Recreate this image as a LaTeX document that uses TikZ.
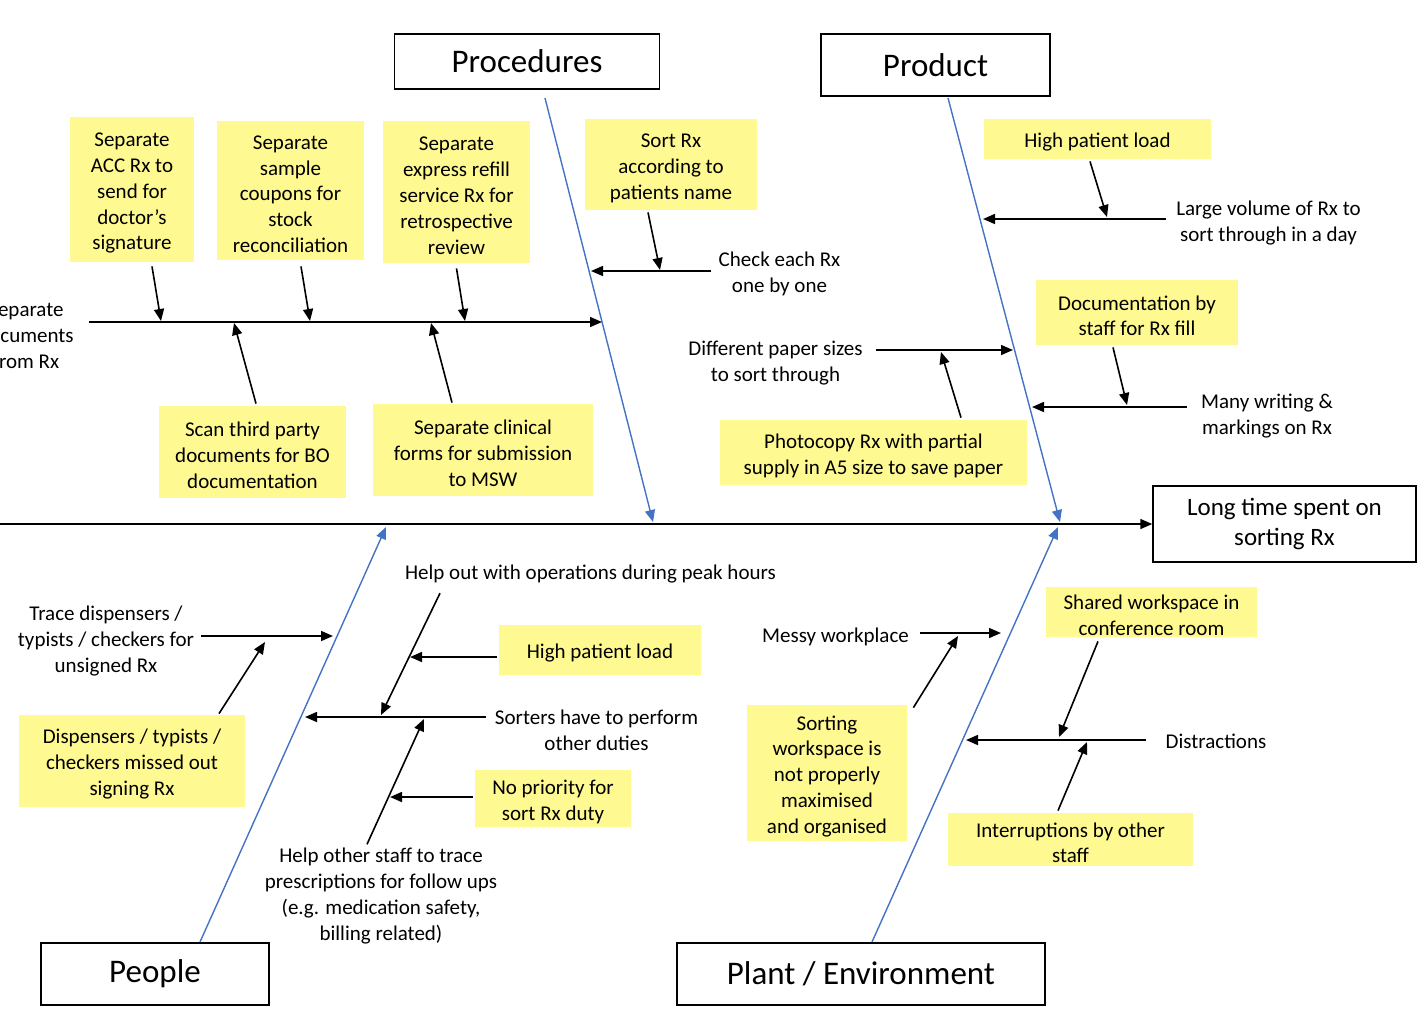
\documentclass[tikz,border=0pt]{standalone}
\usepackage{fontspec}
\setmainfont{Carlito}
\usepackage{tikz}
\usetikzlibrary{arrows.meta,calc}
\definecolor{noteyellow}{RGB}{255,249,145}
\definecolor{boneblue}{RGB}{68,114,196}
\tikzstyle{arr} = [-{Triangle[length=6pt,width=5pt]}, line width=0.8pt]
\tikzstyle{bone} = [-{Triangle[length=6pt,width=5pt]}, draw=boneblue, line width=0.7pt]
\newcommand{\topstrut}{\rule{0pt}{10.5pt}}

\begin{document}
\begin{tikzpicture}[x=0.5pt, y=-0.5pt,
  note/.style = {fill=noteyellow, align=center, inner sep=0pt,
    font=\fontsize{10.5}{12.9}\selectfont},
  lbl/.style = {align=center, inner sep=0pt,
    font=\fontsize{10.5}{13}\selectfont},
  oneline/.style = {execute at begin node={\rule{0pt}{10pt}}},
  cat/.style = {draw, line width=0.75pt, inner sep=0pt,
    font=\fontsize{16.5}{20}\selectfont}]
  \clip (0,0) rectangle (1421,1009);

  \node[cat, minimum width=132.5pt, minimum height=27.5pt] (proc) at (527,61.5) {Procedures};
  \node[cat, minimum width=114.5pt, minimum height=31pt] (prod) at (935.5,65) {Product};
  \node[cat, minimum width=114pt, minimum height=31pt] (ppl) at (155,974) {People};
  \node[cat, minimum width=184pt, minimum height=31pt] (plant) at (861,974) {Plant / Environment};
  \node[cat, minimum width=131.5pt, minimum height=38pt, align=center,
    font=\fontsize{12.5}{15}\selectfont] (effect) at (1284.5,524) {Long time spent on\\sorting Rx};

  \coordinate (tail) at (0,524);
  \draw[arr] (tail) -- (effect.west);

  \coordinate (procA) at (545,98);   \coordinate (procB) at (653,522);
  \coordinate (prodA) at (948,98);   \coordinate (prodB) at (1060,522);
  \coordinate (pplA) at (200,942);   \coordinate (pplB) at (386,527);
  \coordinate (plantA) at (872,942); \coordinate (plantB) at (1058,527);
  \draw[bone] (procA) -- (procB);
  \draw[bone] (prodA) -- (prodB);
  \draw[bone] (pplA) -- (pplB);
  \draw[bone] (plantA) -- (plantB);

  % Procedures
  \node[note, minimum width=62pt, minimum height=72.5pt] (acc) at (132,189.5)
    {\topstrut Separate\\ACC Rx to\\send for\\doctor’s\\signature};
  \node[note, minimum width=73.5pt, minimum height=69.5pt] (coup) at (290.5,190.5)
    {\topstrut Separate\\sample\\coupons for\\stock\\reconciliation};
  \node[note, minimum width=73.5pt, minimum height=71pt] (expr) at (456.5,192)
    {\topstrut Separate\\express refill\\service Rx for\\retrospective\\review};
  \node[note, minimum width=86pt, minimum height=45.5pt] (sortn) at (671,164.5)
    {\topstrut Sort Rx\\according to\\patients name};
  \node[note, minimum width=93.5pt, minimum height=46pt] (scan) at (252.5,452)
    {\topstrut Scan third party\\documents for BO\\documentation};
  \node[note, minimum width=110pt, minimum height=46pt] (clin) at (483,450)
    {\topstrut Separate clinical\\forms for submission\\to MSW};
  \node[lbl] (sepdoc) at (26,332) {\topstrut Separate\\documents\\from Rx};
  \node[lbl] (check) at (779.5,271) {\topstrut Check each Rx\\one by one};

  \coordinate (procL) at (89,322);  \coordinate (procR) at (602,322);
  \draw[arr] (procL) -- (procR);
  \coordinate (p1) at (161,321);  \coordinate (p2) at (310,321);
  \coordinate (p3) at (465,321);  \coordinate (p4) at (234,323);
  \coordinate (p5) at (431,323);  \coordinate (p6) at (591,271);
  \coordinate (p7) at (660,270);
  \draw[arr] ($(acc.south)+(20,4)$) -- (p1);
  \draw[arr] ($(coup.south)+(10.5,6)$) -- (p2);
  \draw[arr] ($(expr.south)+(0,5)$) -- (p3);
  \draw[arr] ($(scan.north)+(3.5,-2)$) -- (p4);
  \draw[arr] ($(clin.north)+(-31,-1)$) -- (p5);
  \draw[arr] ($(check.west)+(-7,0)$) -- (p6);
  \draw[arr] ($(sortn.south)+(-23,2)$) -- (p7);

  % Product
  \node[note, oneline, minimum width=113.5pt, minimum height=20pt] (hpl1) at (1097.5,139) {High patient load};
  \node[lbl] (large) at (1268.5,220) {\topstrut Large volume of Rx to\\sort through in a day};
  \node[note, minimum width=101pt, minimum height=32.5pt] (docu) at (1137,312.5)
    {\topstrut Documentation by\\staff for Rx fill};
  \node[lbl] (many) at (1267,413) {\topstrut Many writing \&\\markings on Rx};
  \node[lbl] (diff) at (775.5,360) {\topstrut Different paper sizes\\to sort through};
  \node[note, minimum width=153.5pt, minimum height=32.5pt] (photo) at (873.5,452.5)
    {\topstrut Photocopy Rx with partial\\supply in A5 size to save paper};

  \coordinate (q1) at (983,219);   \coordinate (q2) at (1107,217);
  \coordinate (q3) at (1032,407);  \coordinate (q4) at (1127,405);
  \coordinate (q5) at (1013,350);  \coordinate (q6) at (941,352);
  \draw[arr] ($(large.west)+(-10,-1)$) -- (q1);
  \draw[arr] ($(hpl1.south)+(-7.5,2)$) -- (q2);
  \draw[arr] ($(many.west)+(-14,-6)$) -- (q3);
  \draw[arr] ($(docu.south)+(-24,2)$) -- (q4);
  \draw[arr] ($(diff.east)+(13,-10)$) -- (q5);
  \draw[arr] ($(photo.north)+(87.5,-2)$) -- (q6);

  % People
  \node[lbl] (trace) at (106,638) {\topstrut Trace dispensers /\\typists / checkers for\\unsigned Rx};
  \node[note, minimum width=113pt, minimum height=46pt] (missed) at (132,761)
    {\topstrut Dispensers / typists /\\checkers missed out\\signing Rx};
  \node[lbl, oneline] (helpout) at (590.5,571) {Help out with operations during peak hours};
  \node[note, oneline, minimum width=101pt, minimum height=25pt] (hpl2) at (600,650) {High patient load};
  \node[lbl] (sorters) at (596.5,727) {\topstrut Sorters have to perform\\other duties};
  \node[note, minimum width=78pt, minimum height=28.5pt] (noprio) at (553,798.5)
    {\topstrut No priority for\\sort Rx duty};
  \node[lbl] (helpother) at (381,893)
    {\topstrut Help other staff to trace\\prescriptions for follow ups\\(e.g. medication safety,\\billing related)};

  \coordinate (r1) at (333,636);  \coordinate (r2) at (265,642);
  \coordinate (r3) at (305,717);  \coordinate (r4) at (381,715);
  \coordinate (r5) at (410,657);  \coordinate (r6) at (424,719);
  \coordinate (r7) at (390,797);
  \draw[arr] ($(trace.east)+(7,-2)$) -- (r1);
  \draw[arr] ($(missed.north)+(87,-1)$) -- (r2);
  \draw[arr] ($(sorters.west)+(-9,-10)$) -- (r3);
  \draw[arr] ($(helpout.south)+(-150.5,10)$) -- (r4);
  \draw[arr] ($(hpl2.west)+(-2,7)$) -- (r5);
  \draw[arr] ($(helpother.north)+(-14,3)$) -- (r6);
  \draw[arr] ($(noprio.west)+(-2,-1.5)$) -- (r7);

  % Plant / Environment
  \node[lbl, oneline] (messy) at (835.5,634) {Messy workplace};
  \node[note, minimum width=80pt, minimum height=68pt] (sortws) at (827,773)
    {\topstrut Sorting\\workspace is\\not properly\\maximised\\and organised};
  \node[note, minimum width=105.5pt, minimum height=25pt] (shared) at (1151.5,612)
    {\topstrut Shared workspace in\\conference room};
  \node[lbl, oneline] (distr) at (1216,739) {Distractions};
  \node[note, minimum width=122.5pt, minimum height=26.5pt] (interr) at (1070.5,839.5)
    {\topstrut Interruptions by other\\staff};

  \coordinate (s1) at (1001,633);  \coordinate (s2) at (958,636);
  \coordinate (s3) at (966,740);   \coordinate (s4) at (1059,737);
  \coordinate (s5) at (1087,742);
  \draw[arr] ($(messy.east)+(11,-1)$) -- (s1);
  \draw[arr] ($(sortws.north east)+(6,3)$) -- (s2);
  \draw[arr] ($(distr.west)+(-19,1)$) -- (s3);
  \draw[arr] ($(shared.south)+(-53.5,4)$) -- (s4);
  \draw[arr] ($(interr.north)+(-12.5,-2)$) -- (s5);
\end{tikzpicture}
\end{document}
